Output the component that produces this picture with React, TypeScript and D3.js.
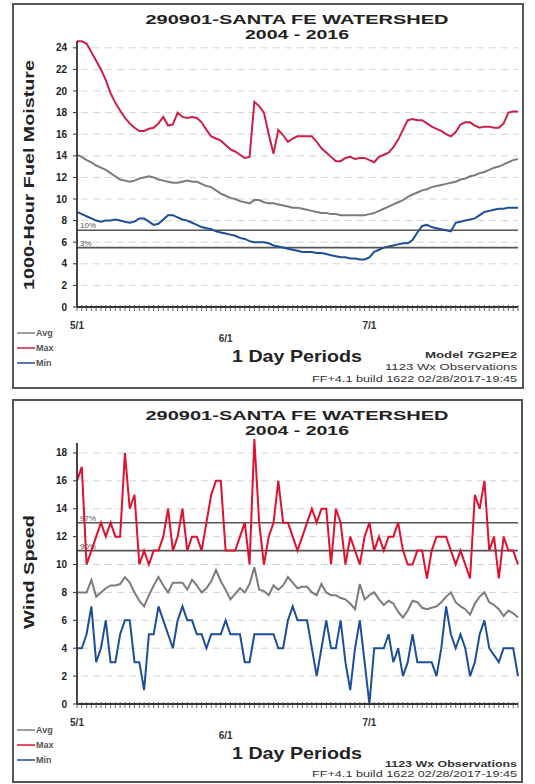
import React from 'react';
import * as d3 from 'd3';

// Day index 0 = 5/1, one value per day through 8/1
const DATE_LABELS = ['5/1', '6/1', '7/1'];
const DATE_LABEL_DAYS = [0, 31, 61];

// 1000-hour fuel moisture
const FM_TICKS = [0, 2, 4, 6, 8, 10, 12, 14, 16, 18, 20, 22, 24];
const FM_MAX = [
  24.6, 24.6, 24.4, 23.6, 22.8, 22.0, 21.0, 19.8, 18.9, 18.2, 17.5, 17.0, 16.6, 16.3, 16.3, 16.5,
  16.6, 17.0, 17.6, 16.8, 16.9, 18.0, 17.6, 17.5, 17.6, 17.5, 17.1, 16.4, 15.8, 15.6, 15.4, 15.0,
  14.6, 14.4, 14.1, 13.8, 13.9, 19.0, 18.6, 18.0, 16.0, 14.2, 16.4, 15.9, 15.3, 15.6, 15.8, 15.8,
  15.8, 15.8, 15.3, 14.7, 14.3, 13.9, 13.5, 13.5, 13.8, 13.9, 13.7, 13.8, 13.8, 13.6, 13.4, 13.9,
  14.1, 14.3, 14.8, 15.5, 16.4, 17.3, 17.4, 17.3, 17.3, 17.0, 16.7, 16.5, 16.3, 16.0, 15.8, 16.2,
  16.9, 17.1, 17.1, 16.8, 16.6, 16.7, 16.7, 16.6, 16.6, 17.0, 18.0, 18.1, 18.1,
];
const FM_AVG = [
  14.1, 13.9, 13.6, 13.4, 13.1, 12.9, 12.7, 12.4, 12.1, 11.8, 11.7, 11.6, 11.7, 11.9, 12.0, 12.1,
  12.0, 11.8, 11.7, 11.6, 11.5, 11.5, 11.6, 11.7, 11.6, 11.6, 11.4, 11.2, 11.1, 10.8, 10.5, 10.3,
  10.1, 10.0, 9.8, 9.7, 9.6, 9.9, 9.9, 9.7, 9.6, 9.6, 9.5, 9.4, 9.3, 9.2, 9.2, 9.1,
  9.0, 8.9, 8.8, 8.7, 8.7, 8.6, 8.6, 8.5, 8.5, 8.5, 8.5, 8.5, 8.5, 8.6, 8.7, 8.9,
  9.1, 9.3, 9.5, 9.7, 9.9, 10.2, 10.4, 10.6, 10.8, 10.9, 11.1, 11.2, 11.3, 11.4, 11.5, 11.6,
  11.8, 11.9, 12.1, 12.2, 12.4, 12.5, 12.7, 12.9, 13.0, 13.2, 13.4, 13.6, 13.7,
];
const FM_MIN = [
  8.8, 8.6, 8.4, 8.2, 8.0, 7.9, 8.0, 8.0, 8.1, 8.0, 7.9, 7.8, 7.9, 8.2, 8.2, 7.9,
  7.6, 7.7, 8.1, 8.5, 8.5, 8.3, 8.1, 8.0, 7.8, 7.6, 7.4, 7.3, 7.2, 7.0, 6.9, 6.8,
  6.7, 6.6, 6.4, 6.3, 6.1, 6.0, 6.0, 6.0, 5.9, 5.7, 5.6, 5.5, 5.4, 5.3, 5.2, 5.1,
  5.1, 5.1, 5.0, 5.0, 4.9, 4.8, 4.7, 4.6, 4.6, 4.5, 4.5, 4.4, 4.4, 4.6, 5.1, 5.3,
  5.5, 5.6, 5.7, 5.8, 5.9, 5.9, 6.2, 6.9, 7.5, 7.6, 7.4, 7.3, 7.2, 7.1, 7.0, 7.8,
  7.9, 8.0, 8.1, 8.2, 8.5, 8.8, 8.9, 9.0, 9.1, 9.1, 9.2, 9.2, 9.2,
];
const FM_PCT_LABELS = ['10%', '3%'];
const FM_PCT_VALUES = [7.1, 5.5];

// Wind speed
const WS_TICKS = [0, 2, 4, 6, 8, 10, 12, 14, 16, 18];
const WS_MAX = [
  16, 17, 10, 11, 12, 13, 12, 13, 12, 12, 18, 14, 15, 10, 11, 10,
  11, 11, 12, 14, 11, 12, 14, 11, 12, 12, 11, 13, 15, 16, 16, 11,
  11, 11, 12, 13, 10, 19, 13, 10, 12, 13, 16, 13, 13, 12, 11, 12,
  13, 14, 13, 14, 14, 10, 14, 13, 10, 12, 11, 10, 12, 13, 11, 12,
  11, 12, 12, 13, 11, 10, 10, 11, 11, 9, 11, 12, 12, 12, 11, 10,
  11, 10, 9, 15, 14, 16, 11, 12, 9, 12, 11, 11, 10,
];
const WS_AVG = [
  8.0, 8.0, 8.0, 8.9, 7.7, 8.0, 8.3, 8.5, 8.5, 8.6, 9.1, 8.7, 8.0, 7.4, 7.0, 7.8,
  8.5, 9.1, 8.5, 8.0, 8.7, 8.7, 8.7, 8.2, 8.9, 8.5, 8.0, 8.3, 8.8, 9.6, 8.8, 8.2,
  7.5, 7.9, 8.3, 8.0, 8.6, 9.8, 8.2, 8.1, 7.8, 8.5, 8.2, 8.5, 9.1, 8.7, 8.3, 8.4,
  8.4, 8.0, 7.8, 8.6, 8.0, 7.8, 7.8, 7.6, 7.5, 7.2, 6.8, 8.6, 7.5, 7.8, 8.0, 7.5,
  7.1, 7.4, 7.2, 6.6, 6.2, 6.7, 7.4, 7.3, 6.9, 6.8, 6.9, 7.0, 7.3, 7.7, 8.0, 7.3,
  7.0, 6.8, 6.4, 7.2, 7.7, 8.0, 7.3, 7.1, 6.8, 6.3, 6.7, 6.5, 6.2,
];
const WS_MIN = [
  4, 4, 5, 7, 3, 4, 6, 3, 3, 5, 6, 6, 3, 3, 1, 5,
  5, 7, 6, 5, 4, 6, 7, 6, 6, 5, 5, 4, 5, 5, 5, 6,
  5, 5, 5, 3, 3, 5, 5, 5, 5, 5, 4, 4, 6, 7, 6, 6,
  6, 4, 2, 4, 6, 4, 4, 6, 3, 1, 4, 6, 3, 0, 4, 4,
  4, 5, 3, 4, 2, 3, 5, 3, 3, 3, 3, 2, 4, 7, 5, 4,
  5, 4, 2, 3, 5, 6, 4, 3.5, 3, 4, 4, 4, 2,
];
const WS_PCT_LABELS = ['97%', '90%'];
const WS_PCT_VALUES = [13, 11];

const TITLE = '290901-SANTA FE WATERSHED';
const SUBTITLE = '2004 - 2016';
const LEGEND = ['Avg', 'Max', 'Min'];

const FONT = '"Liberation Sans", Arial, sans-serif';
const AVG_COLOR = '#7c7c7c';
const MIN_COLOR = '#1d4e98';

type PanelProps = {
  top: number;
  bottom: number;
  frameRight: number;
  y0: number;
  yTop: number;
  yMax: number;
  ticks: number[];
  maxSeries: number[];
  avgSeries: number[];
  minSeries: number[];
  maxColor: string;
  pctLabels: string[];
  pctValues: number[];
  yLabel: string;
  yLabelCenter: number;
  yLabelLength: number;
  titleY: [number, number];
  footer: string[];
  footerWidths: number[];
  footerY: number[];
};

function Panel(p: PanelProps) {
  const x = d3.scaleLinear().domain([0, 92]).range([77, 518]);
  const y = d3.scaleLinear().domain([0, p.yMax]).range([p.y0, p.yTop]);
  const line = d3.line<number>().x((_, i) => x(i)).y((d) => y(d));
  const days = d3.range(0, 93);
  const x0 = x(0);
  const x1 = x(92);

  return (
    <g fontFamily={FONT}>
      <rect x={13} y={p.top} width={p.frameRight - 13} height={p.bottom - p.top}
        fill="#fff" stroke="#555" strokeWidth={2} />
      <text x={297} y={p.titleY[0]} textAnchor="middle" fontSize={13.5} fontWeight="bold"
        fill="#222" textLength={303} lengthAdjust="spacingAndGlyphs">{TITLE}</text>
      <text x={297} y={p.titleY[1]} textAnchor="middle" fontSize={13.5} fontWeight="bold"
        fill="#222" textLength={104} lengthAdjust="spacingAndGlyphs">{SUBTITLE}</text>

      {/* grid */}
      {p.ticks.filter((t) => t > 0).map((t) => (
        <line key={'g' + t} x1={x0 + 4} x2={x1} y1={y(t)} y2={y(t)}
          stroke="#d4d4d4" strokeWidth={1} strokeDasharray="7,5" />
      ))}

      {/* percentile lines */}
      {p.pctValues.map((v, i) => (
        <g key={'p' + i}>
          <line x1={x0} x2={x1} y1={y(v)} y2={y(v)} stroke="#555" strokeWidth={1.6} />
          <text x={x0 + 3} y={y(v) - 2} fontSize={8} fill="#555">{p.pctLabels[i]}</text>
        </g>
      ))}

      {/* series */}
      <path d={line(p.avgSeries) || ''} fill="none" stroke={AVG_COLOR} strokeWidth={2} />
      <path d={line(p.maxSeries) || ''} fill="none" stroke={p.maxColor} strokeWidth={2} />
      <path d={line(p.minSeries) || ''} fill="none" stroke={MIN_COLOR} strokeWidth={2} />

      {/* axes */}
      <line x1={x0} x2={x0} y1={p.yTop + 4} y2={p.y0} stroke="#333" strokeWidth={1.8} />
      <line x1={x0} x2={x1} y1={p.y0} y2={p.y0} stroke="#333" strokeWidth={1.8} />
      {days.map((d) => (
        <line key={'t' + d} x1={x(d)} x2={x(d)} y1={p.y0 - 2} y2={p.y0 + 4}
          stroke="#444" strokeWidth={0.8} />
      ))}
      {p.ticks.map((t) => (
        <g key={'y' + t}>
          <line x1={x0 - 4} x2={x0} y1={y(t)} y2={y(t)} stroke="#333" strokeWidth={1} />
          <text x={x0 - 10} y={y(t) + 3.5} textAnchor="end" fontSize={10} fontWeight="bold"
            fill="#222">{t}</text>
        </g>
      ))}
      {DATE_LABELS.map((lbl, i) => (
        <text key={lbl} x={x(DATE_LABEL_DAYS[i])} y={p.y0 + (i === 1 ? 35 : 22)}
          textAnchor="middle" fontSize={10} fontWeight="bold" fill="#333">{lbl}</text>
      ))}

      <text transform={`translate(34,${p.yLabelCenter}) rotate(-90)`} textAnchor="middle"
        fontSize={15} fontWeight="bold" fill="#222" textLength={p.yLabelLength}
        lengthAdjust="spacingAndGlyphs">{p.yLabel}</text>

      <text x={297} y={p.y0 + 55} textAnchor="middle" fontSize={17} fontWeight="bold"
        fill="#222" textLength={130} lengthAdjust="spacingAndGlyphs">1 Day Periods</text>

      {/* legend */}
      {LEGEND.map((lbl, i) => {
        const ly = p.y0 + 26 + i * 15;
        const c = i === 0 ? AVG_COLOR : i === 1 ? p.maxColor : MIN_COLOR;
        return (
          <g key={lbl}>
            <line x1={17} x2={35} y1={ly} y2={ly} stroke={c} strokeWidth={1.5} />
            <text x={36} y={ly + 3} fontSize={9} fontWeight="bold" fill="#555">{lbl}</text>
          </g>
        );
      })}

      {p.footer.map((f, i) => (
        <text key={f} x={517} y={p.footerY[i]} textAnchor="end" fontSize={9.5} fill="#333"
          fontWeight={i === 0 ? 'bold' : 'normal'} textLength={p.footerWidths[i]}
          lengthAdjust="spacingAndGlyphs">{f}</text>
      ))}
    </g>
  );
}

export default function App() {
  return (
    <svg width={535} height={784} style={{ position: 'absolute', left: 0, top: 0, background: '#fff' }}>
      <Panel
        top={4} bottom={388} frameRight={523}
        y0={307} yTop={37} yMax={25} ticks={FM_TICKS}
        maxSeries={FM_MAX} avgSeries={FM_AVG} minSeries={FM_MIN} maxColor="#cc1f47"
        pctLabels={FM_PCT_LABELS} pctValues={FM_PCT_VALUES}
        yLabel="1000-Hour Fuel Moisture" yLabelCenter={175} yLabelLength={230}
        titleY={[24, 39]}
        footer={['Model  7G2PE2', '1123 Wx Observations', 'FF+4.1 build 1622 02/28/2017-19:45']}
        footerWidths={[92, 132, 205]}
        footerY={[358, 370, 382]}
      />
      <Panel
        top={400} bottom={782} frameRight={522}
        y0={704} yTop={439} yMax={19} ticks={WS_TICKS}
        maxSeries={WS_MAX} avgSeries={WS_AVG} minSeries={WS_MIN} maxColor="#de1131"
        pctLabels={WS_PCT_LABELS} pctValues={WS_PCT_VALUES}
        yLabel="Wind Speed" yLabelCenter={572} yLabelLength={114}
        titleY={[420, 435]}
        footer={['1123 Wx Observations', 'FF+4.1 build 1622 02/28/2017-19:45']}
        footerWidths={[132, 205]}
        footerY={[767, 777]}
      />
    </svg>
  );
}
